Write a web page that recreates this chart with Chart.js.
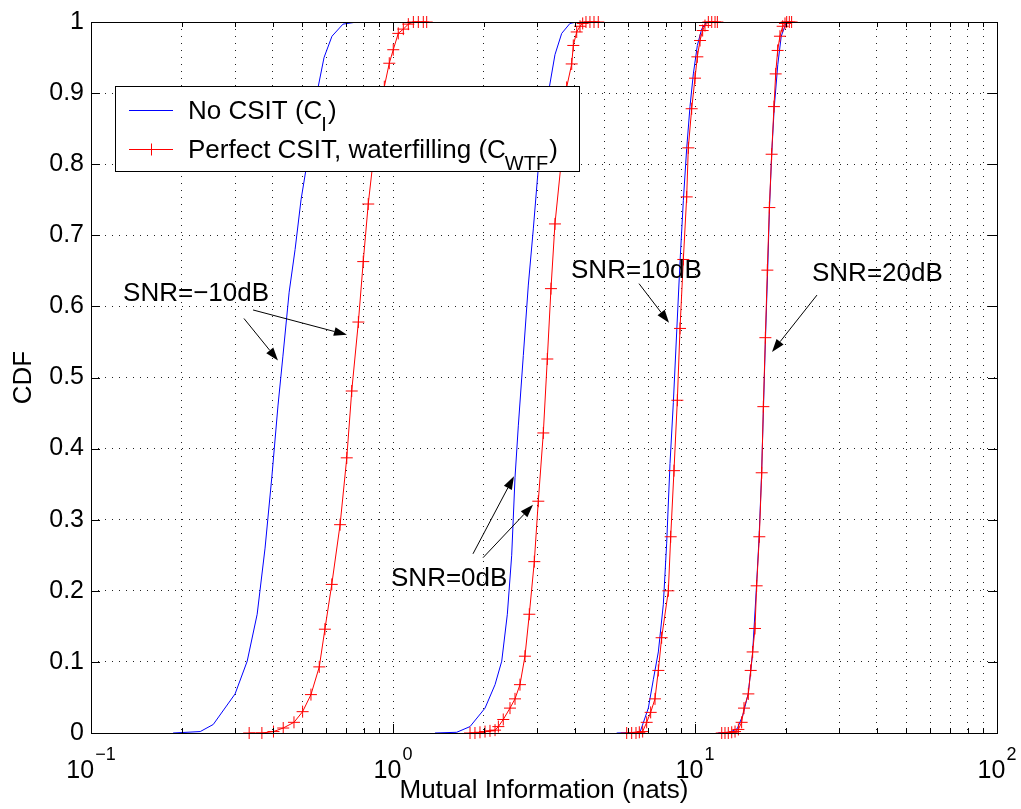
<!DOCTYPE html>
<html>
<head>
<meta charset="utf-8">
<script src="https://cdn.jsdelivr.net/npm/chart.js@4.4.0/dist/chart.umd.min.js"></script>
<style>
  html, body { margin: 0; padding: 0; background: #fff; }
</style>
</head>
<body>
<canvas id="myChart" width="1021" height="809"></canvas>
<script>
// ---- data ----

// SNR = -10 dB
var noCsitX_m10 = [0.187, 0.230, 0.254, 0.300, 0.329, 0.355, 0.377, 0.397, 0.416, 0.432, 0.453, 0.474, 0.496, 0.523, 0.560, 0.591, 0.628, 0.683, 0.760, 0.839];
var noCsitY_m10 = [0, 0.002, 0.012, 0.055, 0.101, 0.167, 0.26, 0.36, 0.46, 0.53, 0.62, 0.68, 0.75, 0.81, 0.90, 0.95, 0.98, 0.997, 1, 1];
var wtfX_m10 = [0.334, 0.368, 0.402, 0.433, 0.470, 0.502, 0.535, 0.570, 0.595, 0.627, 0.668, 0.703, 0.730, 0.768, 0.797, 0.828, 0.862, 0.898, 0.936, 0.972, 1.002, 1.041, 1.082, 1.124, 1.168, 1.213, 1.260, 1.293];
var wtfY_m10 = [0, 0, 0.002, 0.007, 0.015, 0.030, 0.054, 0.093, 0.146, 0.209, 0.293, 0.387, 0.481, 0.578, 0.663, 0.744, 0.81, 0.865, 0.909, 0.942, 0.961, 0.984, 0.990, 0.997, 1, 1, 1, 1];

// SNR = 0 dB
var noCsitX_0 = [1.377, 1.625, 1.799, 2.017, 2.177, 2.291, 2.391, 2.472, 2.535, 2.600, 2.701, 2.806, 2.915, 3.028, 3.186, 3.293, 3.438, 3.619, 3.855, 4.058];
var noCsitY_0 = [0, 0.001, 0.009, 0.035, 0.068, 0.101, 0.167, 0.25, 0.359, 0.432, 0.531, 0.630, 0.709, 0.795, 0.881, 0.908, 0.954, 0.984, 0.998, 1];
var wtfX_0 = [1.799, 1.868, 1.941, 2.017, 2.095, 2.177, 2.233, 2.318, 2.440, 2.535, 2.633, 2.735, 2.827, 2.937, 3.028, 3.146, 3.243, 3.335, 3.438, 3.600, 3.700, 3.758, 3.906, 3.954, 4.058, 4.161, 4.247, 4.355, 4.489, 4.630, 4.783];
var wtfY_0 = [0, 0, 0.001, 0.002, 0.003, 0.004, 0.009, 0.019, 0.035, 0.048, 0.068, 0.108, 0.167, 0.241, 0.326, 0.422, 0.526, 0.625, 0.716, 0.80, 0.86, 0.908, 0.941, 0.967, 0.986, 0.994, 0.998, 1, 1, 1, 1];

// SNR = 10 dB
var noCsitX_10 = [5.503, 6.575, 7.005, 7.278, 7.561, 7.855, 8.058, 8.265, 8.478, 8.697, 8.921, 9.150, 9.385, 9.625, 9.874, 10.18, 10.52, 10.93];
var noCsitY_10 = [0, 0.001, 0.035, 0.075, 0.114, 0.181, 0.267, 0.379, 0.465, 0.564, 0.663, 0.749, 0.822, 0.881, 0.927, 0.967, 0.990, 1];
var wtfX_10 = [5.94, 6.17, 6.377, 6.541, 6.710, 6.918, 7.132, 7.371, 7.561, 7.755, 8.161, 8.308, 8.52, 8.74, 8.92, 9.15, 9.385, 9.504, 9.75, 10.0, 10.18, 10.39, 10.6, 10.79, 11.07, 11.36, 11.65, 11.86];
var wtfY_10 = [0, 0, 0, 0.001, 0.002, 0.015, 0.029, 0.048, 0.088, 0.134, 0.200, 0.276, 0.369, 0.468, 0.569, 0.666, 0.754, 0.823, 0.878, 0.921, 0.951, 0.974, 0.988, 0.995, 1, 1, 1, 1];

// SNR = 20 dB
var noCsitX_20 = [11.9, 13.0, 13.8, 14.4, 15.0, 15.5, 15.95, 16.3, 16.6, 16.85, 17.1, 17.4, 17.65, 17.95, 18.3, 18.8, 19.3, 20.0, 20.6];
var noCsitY_20 = [0, 0.001, 0.006, 0.025, 0.055, 0.11, 0.2, 0.275, 0.36, 0.455, 0.55, 0.65, 0.74, 0.815, 0.88, 0.94, 0.98, 0.998, 1];
var wtfX_20 = [12.26, 12.57, 12.89, 13.23, 13.57, 13.92, 14.27, 14.53, 15.02, 15.29, 15.52, 15.8, 16.0, 16.33, 16.63, 16.84, 17.10, 17.36, 17.63, 17.94, 18.26, 18.5, 18.78, 19.11, 19.51, 19.86, 20.12, 20.53, 20.89];
var wtfY_20 = [0, 0, 0, 0.001, 0.002, 0.005, 0.015, 0.035, 0.055, 0.088, 0.114, 0.147, 0.207, 0.276, 0.366, 0.459, 0.556, 0.651, 0.739, 0.814, 0.881, 0.927, 0.960, 0.980, 0.994, 0.998, 1, 1, 1];

// axes
var decadeVals = [0.1, 1, 10, 100];
var decadeExps = ['\u22121', '0', '1', '2'];
var xGridVals = [0.1, 0.2, 0.3, 0.4, 0.5, 0.6, 0.7, 0.8, 0.9, 1, 2, 3, 4, 5, 6, 7, 8, 9, 10, 20, 30, 40, 50, 60, 70, 80, 90, 100];
var yTickVals = [0, 0.1, 0.2, 0.3, 0.4, 0.5, 0.6, 0.7, 0.8, 0.9, 1];
var yTickLabels = ['0', '0.1', '0.2', '0.3', '0.4', '0.5', '0.6', '0.7', '0.8', '0.9', '1'];

// legend entries and annotations (anchors in data units)
var legendNames = [['No CSIT (C', 'I', ')'], ['Perfect CSIT, waterfilling (C', 'WTF', ')']];
var snrLabels = ['SNR=\u221210dB', 'SNR=0dB', 'SNR=10dB', 'SNR=20dB'];
var snrLabelAt = [[0.1277, 0.608], [0.985, 0.207], [3.886, 0.640], [24.4, 0.636]];
var snrArrows = [
  [[0.321, 0.583, 0.416, 0.524], [0.344, 0.595, 0.704, 0.560]],
  [[1.840, 0.252, 2.515, 0.361], [1.986, 0.2465, 2.908, 0.321]],
  [[6.526, 0.632, 8.203, 0.577]],
  [[25.35, 0.616, 17.99, 0.536]]
];

var FONT = "'Liberation Sans', Arial, Helvetica, sans-serif";
Chart.defaults.font.family = FONT;
Chart.defaults.color = '#000';

function pts(xs, ys) {
  return xs.map(function(x, i) { return {x: x, y: ys[i]}; });
}

function blueSet(xs, ys) {
  return {data: pts(xs, ys), borderColor: '#0000ff', borderWidth: 1, pointRadius: 0, tension: 0, order: 2};
}
function redSet(xs, ys) {
  return {data: pts(xs, ys), borderColor: '#ff0000', borderWidth: 1, pointStyle: 'cross', pointRadius: 6,
          pointBorderColor: '#ff0000', pointBorderWidth: 1, pointHoverRadius: 6, tension: 0, order: 1, clip: false};
}

function arrow(ctx, x1, y1, x2, y2) {
  var ang = Math.atan2(y2 - y1, x2 - x1), L = 13, W = 4.5;
  ctx.beginPath();
  ctx.moveTo(x1, y1);
  ctx.lineTo(x2 - L * Math.cos(ang), y2 - L * Math.sin(ang));
  ctx.stroke();
  ctx.beginPath();
  ctx.moveTo(x2, y2);
  ctx.lineTo(x2 - L * Math.cos(ang) + W * Math.sin(ang), y2 - L * Math.sin(ang) - W * Math.cos(ang));
  ctx.lineTo(x2 - L * Math.cos(ang) - W * Math.sin(ang), y2 - L * Math.sin(ang) + W * Math.cos(ang));
  ctx.closePath();
  ctx.fill();
}

var matlabAxes = {
  id: 'matlabAxes',
  afterDatasetsDraw: function(chart) {
    var ctx = chart.ctx, a = chart.chartArea, xs = chart.scales.x, ys = chart.scales.y;
    ctx.save();
    ctx.setLineDash([]);
    ctx.strokeStyle = '#000';
    ctx.fillStyle = '#000';
    ctx.lineWidth = 1;

    // inward ticks
    ctx.beginPath();
    xGridVals.forEach(function(v) {
      var px = Math.round(xs.getPixelForValue(v)) + 0.5;
      var len = decadeVals.indexOf(v) >= 0 ? 9 : 5;
      ctx.moveTo(px, a.bottom); ctx.lineTo(px, a.bottom - len);
      ctx.moveTo(px, a.top); ctx.lineTo(px, a.top + len);
    });
    yTickVals.forEach(function(v) {
      var py = Math.round(ys.getPixelForValue(v)) + 0.5;
      ctx.moveTo(a.left, py); ctx.lineTo(a.left + 9, py);
      ctx.moveTo(a.right, py); ctx.lineTo(a.right - 9, py);
    });
    ctx.stroke();
    ctx.strokeRect(Math.round(a.left) + 0.5, Math.round(a.top) + 0.5, Math.round(a.right - a.left), Math.round(a.bottom - a.top));

    // SNR annotations
    ctx.font = '26px ' + FONT;
    ctx.textBaseline = 'alphabetic';
    ctx.textAlign = 'left';
    snrLabels.forEach(function(t, i) {
      ctx.fillText(t, xs.getPixelForValue(snrLabelAt[i][0]), ys.getPixelForValue(snrLabelAt[i][1]));
      snrArrows[i].forEach(function(r) {
        arrow(ctx, xs.getPixelForValue(r[0]), ys.getPixelForValue(r[1]), xs.getPixelForValue(r[2]), ys.getPixelForValue(r[3]));
      });
    });

    // legend box
    var lx = 115.5, ly = 86.5, lw = 464, lh = 85;
    ctx.fillStyle = '#fff';
    ctx.fillRect(lx, ly, lw, lh);
    ctx.strokeStyle = '#000';
    ctx.strokeRect(lx, ly, lw, lh);
    var rows = [{y: 110.5, color: '#0000ff', mark: false}, {y: 149.5, color: '#ff0000', mark: true}];
    rows.forEach(function(r, i) {
      ctx.strokeStyle = r.color;
      ctx.lineWidth = 1;
      ctx.beginPath();
      ctx.moveTo(129, r.y); ctx.lineTo(173, r.y);
      if (r.mark) {
        ctx.moveTo(145.5, r.y); ctx.lineTo(157.5, r.y);
        ctx.moveTo(151.5, r.y - 6); ctx.lineTo(151.5, r.y + 6);
      }
      ctx.stroke();
      var parts = legendNames[i], tx = 188, base = r.y + 8;
      ctx.fillStyle = '#000';
      ctx.font = '26px ' + FONT;
      ctx.fillText(parts[0], tx, base);
      tx += ctx.measureText(parts[0]).width - 1;
      ctx.font = '20px ' + FONT;
      ctx.fillText(parts[1], tx, base + 12);
      tx += ctx.measureText(parts[1]).width + 1;
      ctx.font = '26px ' + FONT;
      ctx.fillText(parts[2], tx, base);
    });

    // x tick labels 10^n
    ctx.fillStyle = '#000';
    decadeVals.forEach(function(v, i) {
      var px = xs.getPixelForValue(v);
      ctx.font = '25px ' + FONT;
      var w1 = ctx.measureText('10').width;
      ctx.font = '18px ' + FONT;
      var w2 = ctx.measureText(decadeExps[i]).width;
      var x0 = px - (w1 + w2 + 1) / 2;
      ctx.font = '25px ' + FONT;
      ctx.fillText('10', x0, 778);
      ctx.font = '18px ' + FONT;
      ctx.fillText(decadeExps[i], x0 + w1 + 1, 760);
    });
    ctx.restore();
  }
};

var ctx = document.getElementById('myChart').getContext('2d');
var chart = new Chart(ctx, {
  type: 'line',
  data: {
    datasets: [
      blueSet(noCsitX_m10, noCsitY_m10), redSet(wtfX_m10, wtfY_m10),
      blueSet(noCsitX_0, noCsitY_0), redSet(wtfX_0, wtfY_0),
      blueSet(noCsitX_10, noCsitY_10), redSet(wtfX_10, wtfY_10),
      blueSet(noCsitX_20, noCsitY_20), redSet(wtfX_20, wtfY_20)
    ]
  },
  options: {
    responsive: false,
    animation: false,
    events: [],
    layout: { padding: { top: 19, right: 24, bottom: 0, left: 0 } },
    plugins: { legend: { display: false }, tooltip: { enabled: false } },
    scales: {
      x: {
        type: 'logarithmic',
        min: 0.1, max: 100,
        afterBuildTicks: function(s) { s.ticks = xGridVals.map(function(v) { return {value: v}; }); },
        afterFit: function(s) { s.height = 76; },
        ticks: { display: false },
        grid: { color: '#222', drawTicks: false, lineWidth: 1 },
        border: { display: false, dash: [1, 6] },
        title: { display: true, text: 'Mutual Information (nats)', font: { size: 26 }, padding: { top: 0, bottom: 3 } }
      },
      y: {
        type: 'linear',
        min: 0, max: 1,
        afterBuildTicks: function(s) { s.ticks = yTickVals.map(function(v) { return {value: v}; }); },
        afterFit: function(s) { s.width = 91; },
        ticks: { font: { size: 25 }, padding: 7, callback: function(v, i) { return yTickLabels[i]; } },
        grid: { color: '#222', drawTicks: false, lineWidth: 1 },
        border: { display: false, dash: [1, 6] },
        title: { display: true, text: 'CDF', font: { size: 26 }, padding: { top: 8, bottom: 0 } }
      }
    }
  },
  plugins: [matlabAxes]
});
</script>
</body>
</html>
